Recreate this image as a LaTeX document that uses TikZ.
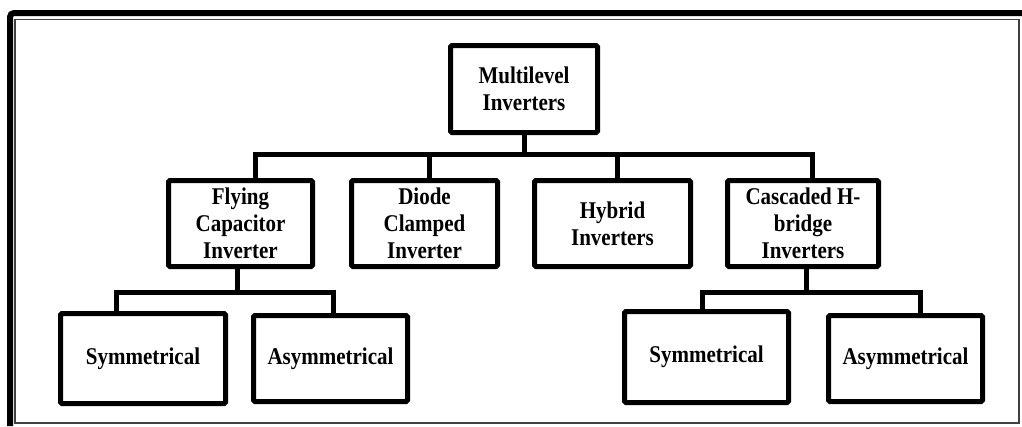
\documentclass[tikz,border=0pt]{standalone}
\usepackage{fontspec}
\setmainfont[FakeStretch=0.875]{Liberation Serif}
\begin{document}
\begin{tikzpicture}[x=1pt,y=-1pt,
    box/.style={draw,line width=5pt,rounded corners=1.5pt,align=center,
      font=\fontsize{24}{27}\selectfont\bfseries,inner sep=0pt},
    link/.style={line width=5pt}]
    \useasboundingbox (0,0) rectangle (1022,426);
    \draw[line width=6pt,rounded corners=4pt] (10,426) -- (10,13) -- (1022,13);
    \draw[black!75,line width=1.2pt] (15,19.5) rectangle (1019,423);

    \node[box,minimum width=147,minimum height=87] (root) at (524,89) {Multilevel\\Inverters};
    \node[box,minimum width=144,minimum height=86] (fly) at (240.5,223.5) {Flying\\Capacitor\\Inverter};
    \node[box,minimum width=146,minimum height=86] (diode) at (424.5,223.5) {Diode\\Clamped\\Inverter};
    \node[box,minimum width=156,minimum height=86] (hybrid) at (612.5,223.5) {Hybrid\\Inverters};
    \node[box,minimum width=151,minimum height=86] (casc) at (803,223.5) {Cascaded H-\\bridge\\Inverters};
    \node[box,minimum width=165,minimum height=90] (sym1) at (143,358.5) {Symmetrical};
    \node[box,minimum width=154,minimum height=86] (asym1) at (330.5,358.5) {Asymmetrical};
    \node[box,minimum width=164,minimum height=91] (sym2) at (706.5,357) {Symmetrical};
    \node[box,minimum width=154,minimum height=86] (asym2) at (905.5,358.5) {Asymmetrical};

    \coordinate (bus) at (524,154);
    \coordinate (busfly) at (237,292);
    \coordinate (buscasc) at (806,292);

    \draw[link] (root.south) -- (bus);
    \draw[link] ([xshift=14.5]fly.north) |- (bus) -| ([xshift=9]casc.north);
    \draw[link] ([xshift=4.5]diode.north) -- ([xshift=4.5]diode.north |- bus);
    \draw[link] ([xshift=4.5]hybrid.north) -- ([xshift=4.5]hybrid.north |- bus);

    \draw[link] ([xshift=-3.5]fly.south) -- (busfly);
    \draw[link] ([xshift=-27]sym1.north) |- (busfly) -| ([xshift=2.5]asym1.north);
    \draw[link] ([xshift=3]casc.south) -- (buscasc);
    \draw[link] ([xshift=-4.5]sym2.north) |- (buscasc) -| ([xshift=14.5]asym2.north);
\end{tikzpicture}
\end{document}
